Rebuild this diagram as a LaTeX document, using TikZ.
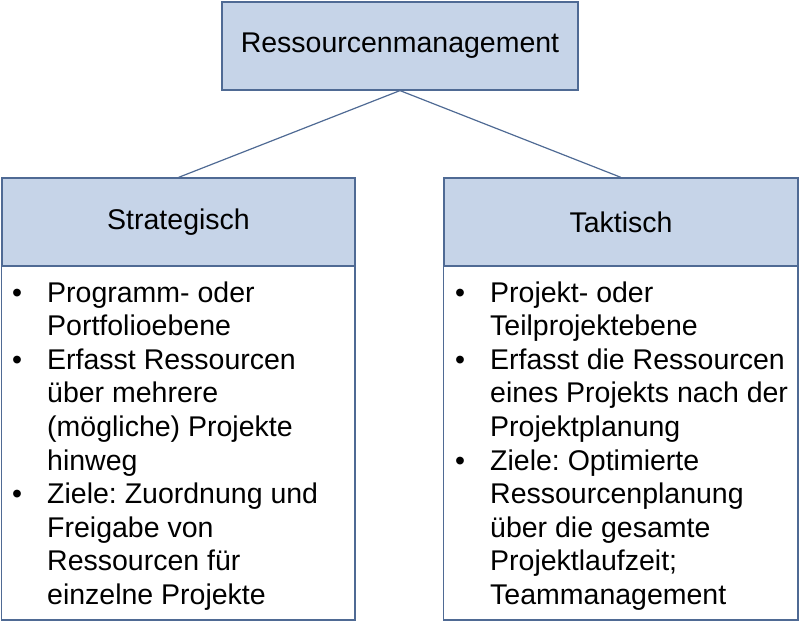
\documentclass[tikz,border=0pt]{standalone}
\usepackage{fontspec}
\setmainfont{Liberation Sans}
\frenchspacing
\definecolor{boxfill}{HTML}{C6D4E8}
\definecolor{boxline}{HTML}{4F6A94}
\tikzset{
  headbox/.style={draw=boxline, fill=boxfill, line width=1.2pt, minimum height=88pt, inner sep=0pt, font=\fontsize{28.5}{32}\selectfont},
  listbox/.style={draw=boxline, fill=white, line width=1.2pt, inner sep=0pt},
  listline/.style={anchor=base west, inner sep=0pt, font=\fontsize{28.5}{32}\selectfont},
  listdot/.style={anchor=base, inner sep=0pt, font=\fontsize{28.5}{32}\selectfont}
}
\begin{document}
\begin{tikzpicture}[x=1pt,y=-1pt]
    \useasboundingbox (0,0) rectangle (800,623);
    % header boxes
    \node[headbox, minimum width=356pt] (res) at (400,46) {Ressourcenmanagement};
    \node[headbox, minimum width=353pt] (strat) at (178.5,222) {Strategisch};
    \node[headbox, minimum width=354pt] (takt) at (621,222) {Taktisch};
    \draw[listbox] (strat.south west) rectangle (355,620);
    \draw[listbox] (takt.south west) rectangle (798,620);
    \draw[boxline, line width=1.2pt] (res.south) -- (strat.north);
    \draw[boxline, line width=1.2pt] (res.south) -- (takt.north);
    % left list
    \foreach \b/\txt [count=\i from 0] in {1/Programm- oder, 0/Portfolioebene, 1/Erfasst Ressourcen, 0/über mehrere, 0/(mögliche) Projekte, 0/hinweg, 1/Ziele: Zuordnung und, 0/Freigabe von, 0/Ressourcen für, 0/einzelne Projekte}{
        \node[listline] (l\i) at (47,302+\i*33.6) {\txt};
        \ifnum\b=1 \node[listdot] at (17,302+\i*33.6) {•}; \fi
    }
    % right list
    \foreach \b/\txt [count=\i from 0] in {1/Projekt- oder, 0/Teilprojektebene, 1/Erfasst die Ressourcen, 0/eines Projekts nach der, 0/Projektplanung, 1/Ziele: Optimierte, 0/Ressourcenplanung, 0/über die gesamte, 0/Projektlaufzeit;, 0/Teammanagement}{
        \node[listline] (r\i) at (490,302+\i*33.6) {\txt};
        \ifnum\b=1 \node[listdot] at (460,302+\i*33.6) {•}; \fi
    }
\end{tikzpicture}
\end{document}
